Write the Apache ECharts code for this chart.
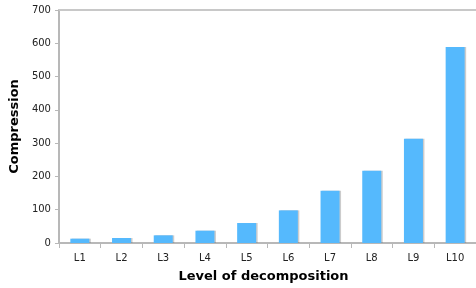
<!DOCTYPE html>
<html>
<head>
<meta charset="utf-8">
<script src="https://cdn.jsdelivr.net/npm/echarts@6/dist/echarts.min.js"></script>
<style>
  html, body { margin: 0; padding: 0; background: #fff; }
  #main { width: 476px; height: 288px; }
</style>
</head>
<body>
<div id="main"></div>
<script>
// levels of decomposition and compression values
var levels = ['L1', 'L2', 'L3', 'L4', 'L5', 'L6', 'L7', 'L8', 'L9', 'L10'];
var compression = [13, 15, 23, 37, 60, 98, 157, 217, 313, 589];
var yTicks = [0, 100, 200, 300, 400, 500, 600, 700];

var chart = echarts.init(document.getElementById('main'));
var option = {
    animation: false,
    grid: {
        left: 57,
        top: 10,
        width: 423,
        bottom: 43
    },
    xAxis: {
        type: 'category',
        data: levels,
        name: 'Level of decomposition',
        nameLocation: 'middle',
        nameGap: 27,
        nameTextStyle: { fontFamily: 'DejaVu Sans', fontWeight: 'bold', fontSize: 13, color: '#000', padding: [0, 0, 0, -8] },
        axisLine: { lineStyle: { color: '#b8b8b8', width: 2 } },
        axisTick: { show: true, alignWithLabel: false, length: 5, lineStyle: { color: '#b8b8b8' } },
        axisLabel: { fontFamily: 'DejaVu Sans', fontSize: 10, color: '#222', margin: 10 }
    },
    yAxis: {
        type: 'value',
        min: yTicks[0],
        max: yTicks[yTicks.length - 1],
        interval: 100,
        name: 'Compression',
        nameLocation: 'middle',
        nameGap: 35,
        nameTextStyle: { fontFamily: 'DejaVu Sans', fontWeight: 'bold', fontSize: 13, color: '#000' },
        axisLine: { show: true, lineStyle: { color: '#b8b8b8', width: 2 } },
        axisTick: { show: true, length: 4, lineStyle: { color: '#b8b8b8' } },
        splitLine: { show: false },
        axisLabel: { fontFamily: 'DejaVu Sans', fontSize: 10, color: '#222', margin: 8 }
    },
    series: [{
        type: 'bar',
        data: compression,
        barWidth: 19,
        itemStyle: {
            color: '#55b9fd',
            shadowColor: 'rgba(110,110,110,0.35)',
            shadowOffsetX: 1.5,
            shadowBlur: 0
        },
        markLine: {
            silent: true,
            symbol: 'none',
            label: { show: false },
            lineStyle: { color: '#c8c8c8', type: 'solid', width: 2 },
            data: [{ yAxis: yTicks[yTicks.length - 1] }]
        }
    }]
};
chart.setOption(option);
</script>
</body>
</html>
